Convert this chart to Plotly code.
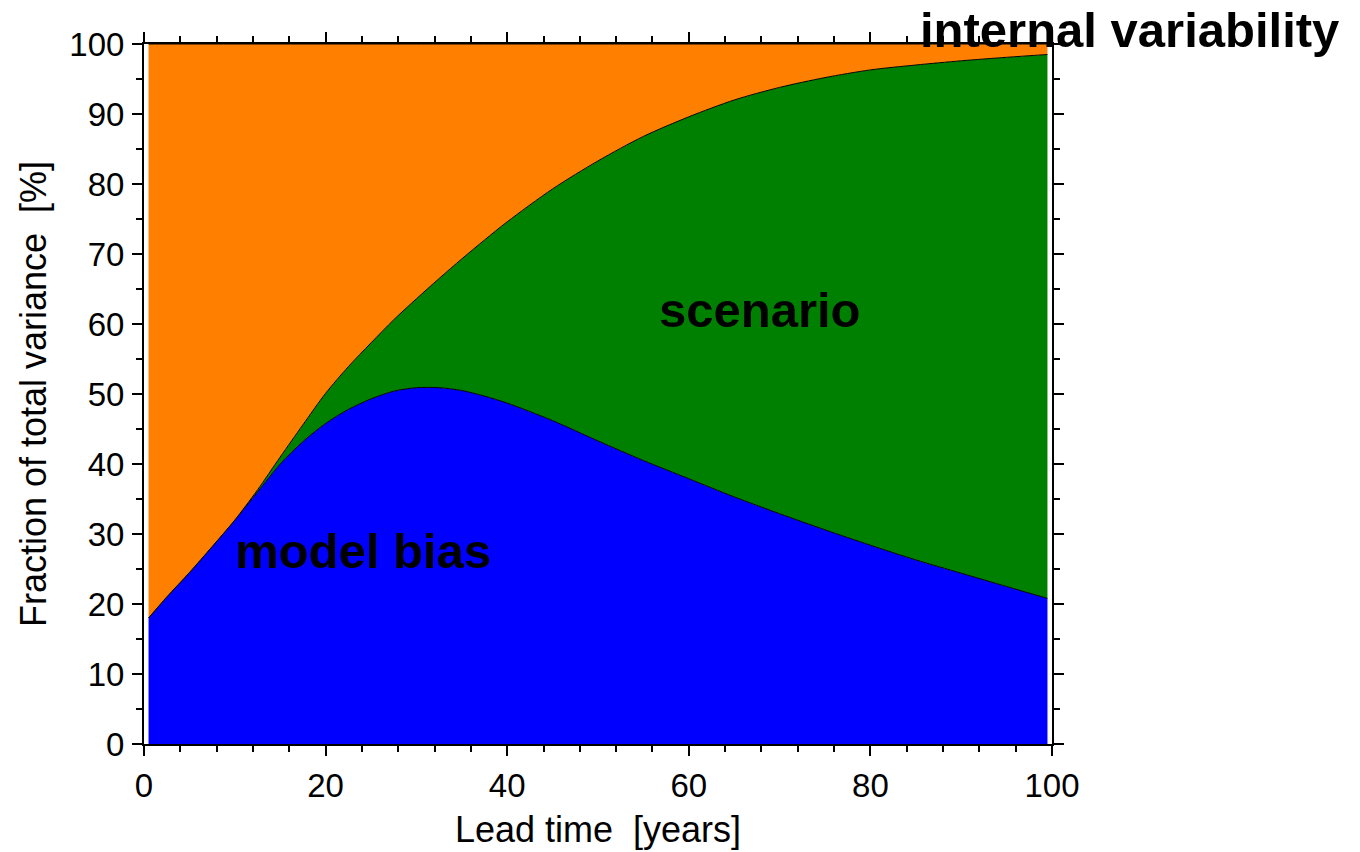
import plotly.graph_objects as go

# Lead time [years]
lead_time = [0.5, 2.5, 5, 7.5, 10, 12.5, 15, 17.5, 20, 22.5, 25, 27.5, 30, 32.5, 35,
             37.5, 40, 45, 50, 55, 60, 65, 70, 75, 80, 85, 90, 95, 99.5]
# Fractions of total variance [%]
model_bias = [18.0, 21.0, 24.5, 28.2, 32.0, 36.0, 40.0, 43.2, 45.8, 47.8, 49.3, 50.4, 50.9, 50.9, 50.5,
              49.7, 48.7, 46.2, 43.3, 40.5, 37.9, 35.3, 32.9, 30.6, 28.4, 26.3, 24.4, 22.5, 20.8]
scenario = [0.0, 0.0, 0.0, 0.0, 0.0, 0.3, 1.0, 2.4, 4.3, 6.1, 8.0, 10.2, 12.7, 15.6, 18.8,
            22.3, 25.9, 33.1, 40.0, 46.3, 51.7, 56.7, 60.9, 64.6, 67.9, 70.7, 73.2, 75.6, 77.7]
internal_variability = [82.0, 79.0, 75.5, 71.8, 68.0, 63.7, 59.0, 54.4, 49.9, 46.1, 42.7, 39.4, 36.4, 33.5, 30.7,
                        28.0, 25.4, 20.7, 16.7, 13.2, 10.4, 8.0, 6.2, 4.8, 3.7, 3.0, 2.4, 1.9, 1.5]

x_ticks = [0, 20, 40, 60, 80, 100]
y_ticks = [0, 10, 20, 30, 40, 50, 60, 70, 80, 90, 100]

FONT = "Liberation Sans, Arial, sans-serif"

fig = go.Figure()
series = [
    ("model bias", model_bias, "#0000FF"),
    ("scenario", scenario, "#008000"),
    ("internal variability", internal_variability, "#FF8000"),
]
for name, vals, color in series:
    fig.add_trace(go.Scatter(
        x=lead_time, y=vals, name=name, mode="lines",
        stackgroup="one", fillcolor=color,
        line=dict(color="black", width=1, shape="spline", smoothing=0.8),
        hoverinfo="x+y+name",
    ))

# in-plot labels (data coordinates)
fig.add_annotation(x=56.5, y=62.0, xref="x", yref="y", text="<b>scenario</b>",
                   showarrow=False, xanchor="left", yanchor="middle",
                   font=dict(family=FONT, size=49, color="black"))
fig.add_annotation(x=9.8, y=27.6, xref="x", yref="y", text="<b>model bias</b>",
                   showarrow=False, xanchor="left", yanchor="middle",
                   font=dict(family=FONT, size=49, color="black"))
# label above the plot frame (paper coordinates)
fig.add_annotation(x=0.852, y=1.02, xref="paper", yref="paper", text="<b>internal variability</b>",
                   showarrow=False, xanchor="left", yanchor="middle",
                   font=dict(family=FONT, size=49, color="black"))

axis_common = dict(
    showline=True, linewidth=2, linecolor="black", mirror="ticks",
    ticks="outside", ticklen=10, tickwidth=2, tickcolor="black",
    showgrid=False, zeroline=False, automargin=False,
    tickfont=dict(family=FONT, size=33, color="black"),
)

fig.update_xaxes(
    range=[0, 100], tickvals=x_ticks, ticktext=[str(v) for v in x_ticks],
    minor=dict(ticks="outside", ticklen=6, tickwidth=2, tickcolor="black", dtick=4, tick0=0),
    title=dict(text="Lead time\u00a0\u00a0[years]", font=dict(family=FONT, size=36, color="black"), standoff=14),
    ticklabelstandoff=1,
    **axis_common,
)
fig.update_yaxes(
    range=[0, 100], tickvals=y_ticks, ticktext=[str(v) for v in y_ticks],
    minor=dict(ticks="outside", ticklen=6, tickwidth=2, tickcolor="black", dtick=5, tick0=0),
    title=dict(text="Fraction of total variance\u00a0\u00a0[%]", font=dict(family=FONT, size=36, color="black"), standoff=12),
    ticklabelstandoff=1,
    **axis_common,
)

fig.update_layout(
    width=1360, height=852,
    margin=dict(l=144, r=308, t=44, b=108),
    paper_bgcolor="white", plot_bgcolor="white",
    showlegend=False,
)

fig.write_html("out.html",
               config={"displayModeBar": False},
               post_script="document.body.style.margin='0';document.body.style.overflow='hidden';")
